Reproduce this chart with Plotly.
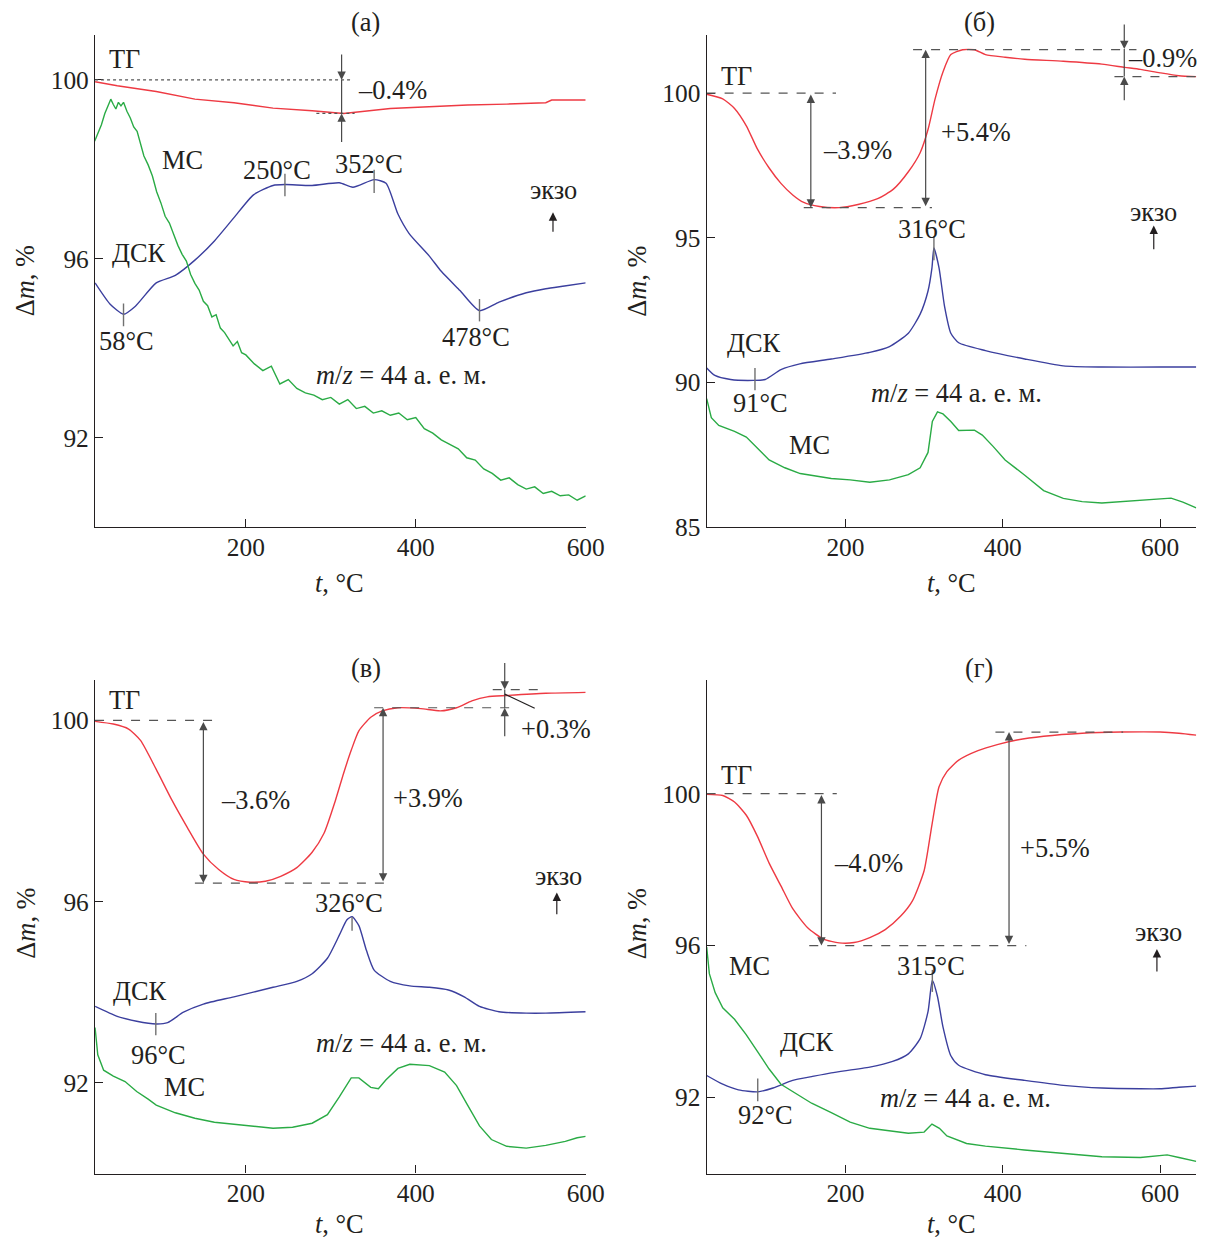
import plotly.graph_objects as go

# Layout helpers: reference pixel R is placed at figure pixel R/S - OFF
# (OFF = default 8px body margin of the page, S = observed capture scale).
S = 0.985
OFF = 8
W, H = 1208, 1241
FONT = "Liberation Serif"
INK = "#231f20"
RED = "#ee3a43"
BLUE = "#3b3f9e"
GREEN = "#2aab45"
GUIDE = "#4a4a4a"
TICK_SIZE = round(25 / S, 1)
TEXT_SIZE = round(26 / S, 1)

# ---------------- panel (а) ----------------
a_tg_t = [22.5, 48.6, 94.5, 140, 186, 232, 278, 315, 370, 416, 461, 507, 553, 560, 600]
a_tg_v = [99.96, 99.87, 99.74, 99.57, 99.49, 99.37, 99.31, 99.25, 99.36, 99.4, 99.44, 99.46, 99.49, 99.55, 99.55]
a_dsc_t = [22.5, 40, 56, 70, 94.5, 117, 140, 163, 186, 209, 232, 246, 278, 310, 326, 351, 365, 379, 392, 416, 430, 452, 475, 498, 530, 553, 575, 600]
a_dsc_v = [95.46, 94.99, 94.76, 94.94, 95.46, 95.63, 95.97, 96.4, 96.92, 97.43, 97.64, 97.66, 97.64, 97.7, 97.6, 97.77, 97.69, 97.0, 96.57, 96.06, 95.72, 95.29, 94.84, 95.03, 95.24, 95.33, 95.39, 95.46]
a_ms_t = [22, 26, 30, 34, 38, 41, 44, 47, 50, 53, 56, 60, 64, 68, 72, 76, 80, 85, 90, 95, 100, 105, 110, 115, 120, 125, 130, 135, 140, 145, 150, 155, 160, 165, 170, 175, 180, 185, 190, 195, 200, 210, 220, 230, 240, 250, 260, 270, 280, 290, 300, 310, 320, 330, 340, 350, 360, 370, 380, 390, 400, 410, 420, 430, 440, 450, 460, 470, 480, 490, 500, 510, 520, 530, 540, 550, 560, 570, 580, 590, 600]
a_ms_v = [98.63, 98.8, 99.0, 99.25, 99.45, 99.57, 99.45, 99.35, 99.5, 99.42, 99.5, 99.3, 99.15, 98.95, 98.85, 98.6, 98.3, 98.1, 97.85, 97.5, 97.25, 96.95, 96.8, 96.55, 96.3, 96.1, 95.95, 95.65, 95.45, 95.3, 95.05, 94.95, 94.7, 94.75, 94.45, 94.35, 94.2, 94.05, 94.15, 93.9, 93.85, 93.65, 93.5, 93.6, 93.2, 93.3, 93.1, 93.0, 92.95, 92.85, 92.9, 92.75, 92.85, 92.65, 92.7, 92.55, 92.6, 92.5, 92.55, 92.4, 92.45, 92.2, 92.1, 91.95, 91.85, 91.75, 91.55, 91.5, 91.3, 91.2, 91.05, 91.1, 90.95, 90.85, 90.9, 90.75, 90.8, 90.7, 90.72, 90.6, 90.7]

# ---------------- panel (б) ----------------
b_tg_t = [23.6, 44, 59, 74, 88, 103, 118, 133, 147, 167, 192, 216, 241, 261, 280, 295, 305, 314, 324, 334, 349, 364, 378, 403, 428, 477, 526, 555, 575, 600, 624, 646]
b_tg_v = [99.96, 99.8, 99.47, 98.87, 98.07, 97.41, 96.88, 96.48, 96.22, 96.08, 96.04, 96.15, 96.35, 96.68, 97.28, 97.94, 98.74, 99.8, 100.73, 101.33, 101.5, 101.5, 101.33, 101.24, 101.17, 101.1, 101.0, 100.89, 100.82, 100.7, 100.6, 100.57]
b_dsc_t = [23.6, 34, 54, 83, 98, 118, 142, 182, 231, 256, 280, 295, 305, 310, 312.5, 319, 326, 334, 344, 378, 428, 477, 526, 600, 646]
b_dsc_v = [90.5, 90.24, 90.1, 90.07, 90.1, 90.44, 90.64, 90.81, 91.04, 91.24, 91.7, 92.36, 93.16, 93.96, 94.65, 93.96, 92.63, 91.7, 91.37, 91.1, 90.81, 90.57, 90.53, 90.53, 90.53]
b_ms_t = [23.6, 29.5, 39, 59, 74, 88, 103, 123, 142.5, 182, 206, 231, 256, 280, 295, 305, 310.5, 317, 324, 334, 344, 364, 374, 388, 403, 428, 452, 477, 501, 526, 575, 614, 629, 646]
b_ms_v = [89.44, 88.78, 88.51, 88.31, 88.11, 87.72, 87.32, 87.05, 86.85, 86.68, 86.63, 86.55, 86.63, 86.81, 87.05, 87.58, 88.65, 88.98, 88.91, 88.65, 88.34, 88.35, 88.18, 87.78, 87.32, 86.79, 86.26, 85.99, 85.88, 85.83, 85.92, 86.0, 85.86, 85.66]

# ---------------- panel (в) ----------------
c_tg_t = [22.5, 44, 62, 76, 94.5, 113, 131, 150, 168, 186, 205, 223, 241, 260, 278, 292, 305.5, 315, 324, 333, 347, 360.5, 379, 406, 429, 448, 466, 484, 507, 553, 600]
c_tg_v = [99.98, 99.92, 99.81, 99.56, 98.92, 98.24, 97.64, 97.05, 96.71, 96.49, 96.43, 96.45, 96.56, 96.75, 97.09, 97.51, 98.24, 98.83, 99.34, 99.77, 100.07, 100.21, 100.28, 100.26, 100.21, 100.28, 100.43, 100.52, 100.55, 100.6, 100.62]
c_dsc_t = [22.5, 48.6, 71.5, 94.5, 108, 126.6, 150, 186, 232, 260, 278, 296, 310, 319, 325, 333, 342, 351, 370, 393, 416, 438.5, 457, 475, 498, 530, 553, 600]
c_dsc_v = [93.69, 93.47, 93.36, 93.3, 93.33, 93.56, 93.74, 93.9, 94.11, 94.24, 94.41, 94.75, 95.26, 95.6, 95.67, 95.47, 94.92, 94.49, 94.24, 94.14, 94.11, 94.05, 93.9, 93.69, 93.57, 93.54, 93.54, 93.57]
c_ms_t = [22.5, 25.7, 32.6, 44, 57.8, 71.5, 85, 94.5, 117, 140, 163, 186, 209, 232, 255, 278, 296, 310, 324, 333, 347, 356, 365, 379, 393, 416, 434, 448, 461, 475, 489, 507, 530, 553, 576, 590, 600]
c_ms_v = [93.22, 92.62, 92.28, 92.15, 92.03, 91.81, 91.64, 91.51, 91.34, 91.22, 91.13, 91.09, 91.05, 91.0, 91.02, 91.11, 91.3, 91.69, 92.11, 92.11, 91.9, 91.87, 92.07, 92.32, 92.41, 92.38, 92.24, 91.94, 91.51, 91.05, 90.75, 90.6, 90.56, 90.62, 90.71, 90.79, 90.82]

# ---------------- panel (г) ----------------
d_tg_t = [23.6, 44, 59, 74, 88, 103, 118, 133, 152, 172, 192, 211, 231, 250.6, 270, 285, 300, 310, 319, 329, 344, 368.5, 393, 418, 452, 501, 550, 600, 624, 646]
d_tg_v = [99.98, 99.95, 99.78, 99.43, 98.88, 98.17, 97.57, 96.97, 96.47, 96.17, 96.07, 96.08, 96.21, 96.42, 96.77, 97.17, 97.97, 99.18, 100.18, 100.58, 100.88, 101.13, 101.29, 101.41, 101.51, 101.59, 101.62, 101.62, 101.59, 101.54]
d_dsc_t = [23.6, 44, 64, 88.5, 108, 133, 157, 182, 231, 260, 280, 295, 305, 310.5, 317, 324, 334, 344, 378, 428, 477, 526, 575, 600, 624, 646]
d_dsc_v = [92.58, 92.35, 92.2, 92.15, 92.25, 92.45, 92.55, 92.65, 92.8, 92.95, 93.15, 93.55, 94.26, 95.08, 94.66, 93.86, 93.1, 92.85, 92.6, 92.45, 92.32, 92.25, 92.23, 92.23, 92.27, 92.3]
d_ms_t = [23.6, 27, 34.4, 44, 59, 74, 88.5, 103, 118, 133, 157, 182, 206, 231, 256, 280, 300, 310, 319.5, 329, 354, 378, 427.5, 477, 526, 575, 609, 624, 646]
d_ms_v = [95.96, 95.26, 94.76, 94.36, 94.06, 93.65, 93.2, 92.75, 92.35, 92.15, 91.85, 91.6, 91.35, 91.19, 91.12, 91.06, 91.09, 91.3, 91.19, 90.99, 90.79, 90.72, 90.62, 90.52, 90.44, 90.42, 90.49, 90.42, 90.32]

# axis settings
x_ticks = [200, 400, 600]
y_ticks_a = [92, 96, 100]
y_ticks_b = [85, 90, 95, 100]
y_ticks_c = [92, 96, 100]
y_ticks_d = [92, 96, 100]
x_range_left = [22.5, 600]
x_range_right = [23.5, 646]
y_range_a = [90, 101]
y_range_b = [85, 102]
y_range_c = [90, 100.9]
y_range_d = [90, 103]

fig = go.Figure()


def fpx(r):
    return r / S - OFF


def dom_x(a, b):
    return [fpx(a) / W, fpx(b) / W]


def dom_y(top, bottom):
    return [1 - fpx(bottom) / H, 1 - fpx(top) / H]


def add_curves(n, series):
    xa = "x" if n == 1 else f"x{n}"
    ya = "y" if n == 1 else f"y{n}"
    for t, v, col, shape in series:
        fig.add_trace(go.Scatter(
            x=t, y=v, xaxis=xa, yaxis=ya, mode="lines",
            line=dict(color=col, width=1.4, shape=shape, smoothing=0.6),
            showlegend=False, hoverinfo="skip"))


add_curves(1, [(a_tg_t, a_tg_v, RED, "linear"), (a_dsc_t, a_dsc_v, BLUE, "spline"), (a_ms_t, a_ms_v, GREEN, "linear")])
add_curves(2, [(b_tg_t, b_tg_v, RED, "spline"), (b_dsc_t, b_dsc_v, BLUE, "spline"), (b_ms_t, b_ms_v, GREEN, "linear")])
add_curves(3, [(c_tg_t, c_tg_v, RED, "spline"), (c_dsc_t, c_dsc_v, BLUE, "spline"), (c_ms_t, c_ms_v, GREEN, "linear")])
add_curves(4, [(d_tg_t, d_tg_v, RED, "spline"), (d_dsc_t, d_dsc_v, BLUE, "spline"), (d_ms_t, d_ms_v, GREEN, "linear")])

axis_style = dict(showline=True, linecolor=INK, linewidth=1.3, ticks="inside", ticklen=8,
                  tickwidth=1.2, tickcolor=INK, showgrid=False, zeroline=False,
                  tickfont=dict(family=FONT, size=TICK_SIZE, color=INK))
xaxis_style = dict(axis_style, ticklabelstandoff=-3)

LX = dom_x(95, 586)
RX = dom_x(707, 1197)
TY = dom_y(35, 525)
BY = dom_y(677, 1169)

fig.update_layout(
    width=W, height=H, margin=dict(l=0, r=0, t=0, b=0),
    paper_bgcolor="white", plot_bgcolor="white",
    font=dict(family=FONT, size=TEXT_SIZE, color=INK),
    xaxis=dict(domain=LX, range=x_range_left, tickvals=x_ticks, anchor="y", **xaxis_style),
    yaxis=dict(domain=TY, range=y_range_a, tickvals=y_ticks_a, anchor="x", **axis_style),
    xaxis2=dict(domain=RX, range=x_range_right, tickvals=x_ticks, anchor="y2", **xaxis_style),
    yaxis2=dict(domain=TY, range=y_range_b, tickvals=y_ticks_b, anchor="x2", **axis_style),
    xaxis3=dict(domain=LX, range=x_range_left, tickvals=x_ticks, anchor="y3", **xaxis_style),
    yaxis3=dict(domain=BY, range=y_range_c, tickvals=y_ticks_c, anchor="x3", **axis_style),
    xaxis4=dict(domain=RX, range=x_range_right, tickvals=x_ticks, anchor="y4", **xaxis_style),
    yaxis4=dict(domain=BY, range=y_range_d, tickvals=y_ticks_d, anchor="x4", **axis_style),
)


def refs(n):
    return ("x" if n == 1 else f"x{n}"), ("y" if n == 1 else f"y{n}")


def txt(n, x, y, s, size=TEXT_SIZE, xanchor="center"):
    xr, yr = refs(n)
    fig.add_annotation(xref=xr, yref=yr, x=x, y=y, text=s, showarrow=False,
                       font=dict(family=FONT, size=size, color=INK),
                       xanchor=xanchor, yanchor="middle")


def arrow(n, x, y_tail, y_head, both=False, color=GUIDE):
    xr, yr = refs(n)
    fig.add_annotation(xref=xr, yref=yr, axref=xr, ayref=yr, x=x, y=y_head, ax=x, ay=y_tail,
                       text="", showarrow=True, arrowhead=2, arrowsize=1.4, arrowwidth=1.2,
                       startarrowhead=2, startarrowsize=1.4,
                       arrowside="end+start" if both else "end", arrowcolor=color)


def hline(n, y, x0, x1, dash="dash"):
    xr, yr = refs(n)
    fig.add_shape(type="line", xref=xr, yref=yr, x0=x0, x1=x1, y0=y, y1=y,
                  line=dict(color="#555555", width=1.2, dash=dash))


def seg(n, x0, y0, x1, y1, color=GUIDE, width=1.2):
    xr, yr = refs(n)
    fig.add_shape(type="line", xref=xr, yref=yr, x0=x0, x1=x1, y0=y0, y1=y1,
                  line=dict(color=color, width=width))


MARK = "#707070"

# ---- panel (а) annotations ----
hline(1, 100, 22.5, 326, "dot")
hline(1, 99.25, 283, 328, "dot")
seg(1, 312.7, 100.0, 312.7, 99.25)
arrow(1, 312.7, 100.6, 100.0)
arrow(1, 312.7, 98.58, 99.25)
txt(1, 330, 99.77, "–0.4%", xanchor="left")
txt(1, 57, 100.47, "ТГ")
txt(1, 125.7, 98.22, "МС")
txt(1, 74, 96.14, "ДСК")
txt(1, 236.7, 97.99, "250°C")
txt(1, 344.5, 98.11, "352°C")
txt(1, 60, 94.17, "58°C")
txt(1, 470.6, 94.26, "478°C")
txt(1, 383.5, 93.4, "<i>m</i>/<i>z</i> = 44 а. е. м.")
txt(1, 562.4, 97.54, "экзо")
arrow(1, 561.5, 96.57, 97.04, color=INK)
seg(1, 56, 95.0, 56, 94.49, MARK, 1.4)
seg(1, 246, 97.9, 246, 97.4, MARK, 1.4)
seg(1, 351, 97.99, 351, 97.47, MARK, 1.4)
seg(1, 475, 95.1, 475, 94.6, MARK, 1.4)

# ---- panel (б) annotations ----
hline(2, 100, 23.5, 188)
hline(2, 96.04, 147, 310)
hline(2, 101.5, 286, 570)
hline(2, 100.57, 542, 646)
arrow(2, 156, 100, 96.04, both=True)
arrow(2, 302, 96.04, 101.5, both=True)
seg(2, 554.5, 101.52, 554.5, 100.57)
arrow(2, 554.5, 102.42, 101.52)
arrow(2, 554.5, 99.7, 100.57)
txt(2, 169.5, 98.05, "–3.9%", xanchor="left")
txt(2, 319.4, 98.67, "+5.4%", xanchor="left")
txt(2, 557, 101.2, "–0.9%", xanchor="left")
txt(2, 61.4, 100.6, "ТГ")
txt(2, 83.5, 91.37, "ДСК")
txt(2, 92.4, 89.3, "91°C")
txt(2, 309.6, 95.29, "316°C")
txt(2, 341.5, 89.64, "<i>m</i>/<i>z</i> = 44 а. е. м.")
txt(2, 154.8, 87.85, "МС")
txt(2, 592, 95.9, "экзо")
arrow(2, 592, 94.55, 95.42, color=INK)
seg(2, 312.5, 95.05, 312.5, 94.22, MARK, 1.4)
seg(2, 85, 90.5, 85, 89.73, MARK, 1.4)

# ---- panel (в) annotations ----
hline(3, 100, 22.5, 163)
hline(3, 96.41, 140, 371)
hline(3, 100.28, 351, 516.5)
hline(3, 100.68, 490.6, 549)
arrow(3, 150, 100, 96.41, both=True)
arrow(3, 361.5, 96.41, 100.28, both=True)
seg(3, 504.7, 100.68, 504.7, 100.28)
arrow(3, 504.7, 101.3, 100.68)
arrow(3, 504.7, 99.62, 100.28)
seg(3, 504.7, 100.58, 540, 100.27, INK, 1.2)
txt(3, 168, 98.24, "–3.6%", xanchor="left")
txt(3, 371, 98.28, "+3.9%", xanchor="left")
txt(3, 522, 99.8, "+0.3%", xanchor="left")
txt(3, 56.9, 100.45, "ТГ")
txt(3, 321.5, 95.98, "326°C")
txt(3, 75, 94.03, "ДСК")
txt(3, 97, 92.62, "96°C")
txt(3, 383.5, 92.88, "<i>m</i>/<i>z</i> = 44 а. е. м.")
txt(3, 128, 91.9, "МС")
txt(3, 568, 96.56, "экзо")
arrow(3, 566, 95.69, 96.2, color=INK)
seg(3, 325, 95.66, 325, 95.36, MARK, 1.4)
seg(3, 94, 93.54, 94, 93.05, MARK, 1.4)

# ---- panel (г) annotations ----
hline(4, 100, 23.5, 189)
hline(4, 96, 154, 430)
hline(4, 101.62, 390.7, 553)
arrow(4, 169.5, 100, 96, both=True)
arrow(4, 408, 96, 101.62, both=True)
txt(4, 183, 98.17, "–4.0%", xanchor="left")
txt(4, 419, 98.57, "+5.5%", xanchor="left")
txt(4, 61.4, 100.5, "ТГ")
txt(4, 308.6, 95.46, "315°C")
txt(4, 77.6, 95.46, "МС")
txt(4, 151, 93.45, "ДСК")
txt(4, 98.3, 91.55, "92°C")
txt(4, 353, 92.0, "<i>m</i>/<i>z</i> = 44 а. е. м.")
txt(4, 598, 96.37, "экзо")
arrow(4, 596, 95.28, 95.91, color=INK)
seg(4, 310.5, 95.36, 310.5, 94.78, MARK, 1.4)
seg(4, 88.5, 92.5, 88.5, 91.9, MARK, 1.4)


# ---- panel titles and axis titles (reference-pixel positions) ----
def paper_txt(px, py, s, angle=0, size=TEXT_SIZE):
    fig.add_annotation(xref="paper", yref="paper", x=fpx(px) / W, y=1 - fpx(py) / H, text=s,
                       showarrow=False, textangle=angle,
                       font=dict(family=FONT, size=size, color=INK),
                       xanchor="center", yanchor="middle")


paper_txt(366, 22, "(а)")
paper_txt(980, 22, "(б)")
paper_txt(366, 665, "(в)")
paper_txt(980, 665, "(г)")
for (px, py) in [(340, 581), (952, 581), (340, 1219), (952, 1219)]:
    paper_txt(px, py, "<i>t</i>, °C")
for (px, py) in [(25, 280), (637, 280), (25, 920), (637, 920)]:
    paper_txt(px, py, "Δ<i>m</i>, %", angle=-90)

fig.write_html("out.html", config={"displayModeBar": False})
